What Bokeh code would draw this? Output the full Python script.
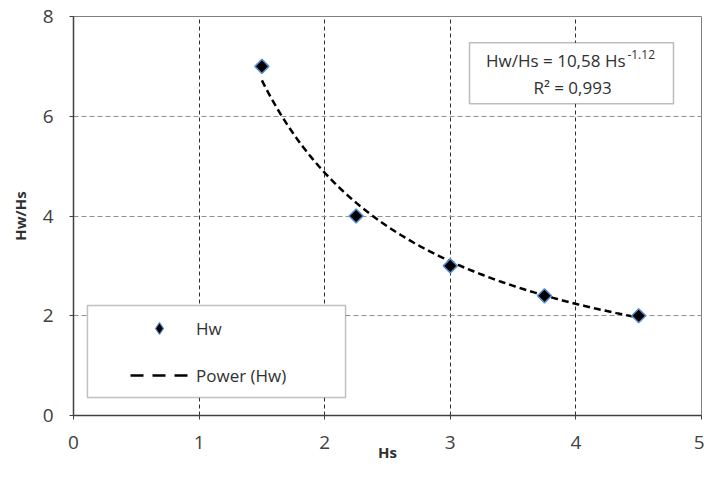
import numpy as np
from bokeh.plotting import figure
from bokeh.models import (Range1d, FixedTicker, Legend, LegendItem, BoxAnnotation, Label)
from bokeh.embed import file_html
from bokeh.resources import INLINE

# ---- data ----
hs = [1.5, 2.25, 3.0, 3.75, 4.5]
hw_hs = [7.0, 4.0, 3.0, 2.4, 2.0]
fit_coef = 10.58
fit_exp = -1.12
x_ticks = [0, 1, 2, 3, 4, 5]
y_ticks = [0, 2, 4, 6, 8]
eq_text = "Hw/Hs = 10,58 Hs"
eq_sup = "-1.12"
r2_text = "R\u00b2 = 0,993"

FONT = "Open Sans"

p = figure(width=704, height=491, output_backend="svg", toolbar_location=None,
           x_range=Range1d(0, 5), y_range=Range1d(0, 8),
           min_border_left=73, min_border_right=3, min_border_top=16, min_border_bottom=76)
p.background_fill_color = "white"
p.border_fill_color = "white"
p.outline_line_color = "#808080"
p.outline_line_width = 1

p.xaxis.ticker = FixedTicker(ticks=x_ticks)
p.yaxis.ticker = FixedTicker(ticks=y_ticks)
for ax in (p.xaxis, p.yaxis):
    ax.axis_line_color = "#404040"
    ax.axis_line_width = 1.5
    ax.major_tick_line_color = "#404040"
    ax.major_tick_in = 0
    ax.major_tick_out = 4
    ax.minor_tick_line_color = None
    ax.major_label_text_font = FONT
    ax.major_label_text_font_size = "19px"
    ax.major_label_text_color = "#404040"
    ax.axis_label_text_font = FONT
    ax.axis_label_text_font_size = "15px"
    ax.axis_label_text_font_style = "bold"
    ax.axis_label_text_color = "#303030"
p.yaxis.major_label_standoff = 16
p.xaxis.major_label_standoff = 16
p.xaxis.axis_label = "Hs"
p.yaxis.axis_label = "Hw/Hs"
p.xaxis.axis_label_standoff = -10
p.yaxis.axis_label_standoff = 10

p.xgrid.grid_line_color = "#303030"
p.xgrid.grid_line_dash = "4 3"
p.xgrid.grid_line_width = 1
p.ygrid.grid_line_color = "#909090"
p.ygrid.grid_line_dash = "5 3"
p.ygrid.grid_line_width = 1

# trend line from the fitted power law
xs = np.linspace(min(hs), max(hs), 120)
ys = fit_coef * xs ** fit_exp
line_r = p.line(xs, ys, line_color="black", line_width=2.5, line_dash="7 4")

pts = p.scatter(hs, hw_hs, marker="square", angle=np.pi / 4, size=10, fill_color="black",
                line_color="#5b8fd0", line_width=1.5)
# legend key renderers (a single NaN point each: they draw nothing in the plot)
pts_key = p.scatter([np.nan], [np.nan], marker="diamond", fill_color="black",
                    line_color="#5b8fd0", line_width=1.2)
line_key = p.line([np.nan], [np.nan], line_color="black", line_width=2.5, line_dash="13 9")

# legend box
legend_box = BoxAnnotation(left=0.111, right=2.166, bottom=0.361, top=2.204,
                           fill_color="white", fill_alpha=1.0,
                           line_color="#303030", line_width=1.5)
p.add_layout(legend_box)

legend = Legend(items=[LegendItem(label="Hw", renderers=[pts_key]),
                       LegendItem(label="Power (Hw)", renderers=[line_key])],
                location=(57, 25), padding=0, spacing=17, glyph_width=58, glyph_height=30,
                label_standoff=8, border_line_alpha=0, background_fill_alpha=0,
                label_text_font=FONT, label_text_font_size="17px",
                label_text_color="#303030", margin=0)
p.add_layout(legend)

# equation box
eq_box = BoxAnnotation(left=3.153, right=4.777, bottom=6.25, top=7.475,
                       fill_color="white", fill_alpha=1.0,
                       line_color="#202020", line_width=1.5)
p.add_layout(eq_box)
p.add_layout(Label(x=4.395, y=7.114, text=eq_text, text_align="right", text_baseline="middle",
                   text_font=FONT, text_font_size="17px", text_color="#303030"))
p.add_layout(Label(x=4.41, y=7.234, text=eq_sup, text_align="left", text_baseline="middle",
                   text_font=FONT, text_font_size="12px", text_color="#303030"))
p.add_layout(Label(x=3.973, y=6.573, text=r2_text, text_align="center", text_baseline="middle",
                   text_font=FONT, text_font_size="17px", text_color="#303030"))

open("out.html", "w").write(file_html(p, INLINE))
